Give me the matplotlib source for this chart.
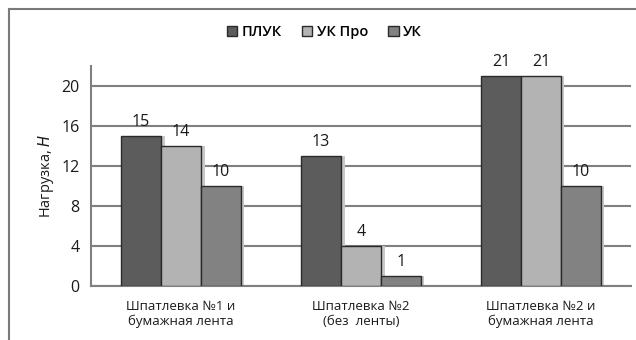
import numpy as np
import matplotlib.pyplot as plt
from matplotlib.lines import Line2D

plt.rcParams['font.family'] = ['Open Sans', 'DejaVu Sans']

categories = ["Шпатлевка №1 и\nбумажная лента", "Шпатлевка №2\n(без  ленты)", "Шпатлевка №2 и\nбумажная лента"]
series_names = ["ПЛУК", "УК Про", "УК"]
pluk = [15, 13, 21]
uk_pro = [14, 4, 21]
uk = [10, 1, 10]
colors = ["#5c5c5c", "#b3b3b3", "#828282"]

fig = plt.figure(figsize=(6.36, 3.4), dpi=100)
ax = fig.add_axes([0.143, 0.159, 0.849, 0.647])

x = np.arange(len(categories))
w = 0.222
for i, (vals, name, c) in enumerate(zip([pluk, uk_pro, uk], series_names, colors)):
    pos = x + (i - 1) * w
    # soft shadow
    ax.bar(pos + 0.02, vals, w, color="#c8c8c8", zorder=2, linewidth=0)
    ax.bar(pos, vals, w, color=c, edgecolor="#2a2a2a", linewidth=1.0,
           label=name, zorder=3)
    for p, v in zip(pos, vals):
        ax.text(p, v + 0.6, str(v), ha="center", va="bottom", fontsize=11.5,
                color="#1a1a1a", zorder=4)

ax.set_xlim(-0.5, 2.5)
ax.set_ylim(0, 22)
ax.set_yticks([0, 4, 8, 12, 16, 20])
ax.set_xticks(x)
ax.set_xticklabels(categories, fontsize=9.5, color="#1a1a1a")
ax.tick_params(axis="y", labelsize=11.5, length=0, pad=8, labelcolor="#1a1a1a")
ax.tick_params(axis="x", length=0, pad=10)
ax.yaxis.grid(True, color="#808080", linewidth=1.5, zorder=0)
ax.set_axisbelow(True)
for s in ["top", "right"]:
    ax.spines[s].set_visible(False)
ax.spines["left"].set_color("#808080")
ax.spines["bottom"].set_color("#808080")
ax.spines["left"].set_linewidth(1.5)
ax.spines["bottom"].set_linewidth(1.5)
ax.set_ylabel("Нагрузка, $\\it{Н}$", fontsize=10.5, labelpad=4, color="#1a1a1a")

handles = [plt.Rectangle((0, 0), 1, 1, facecolor=c, edgecolor="#2a2a2a") for c in colors]
leg = fig.legend(handles, series_names, loc="center", bbox_to_anchor=(0.51, 0.905), ncol=3,
                 frameon=False, prop={"size": 10.5, "weight": "semibold"},
                 handlelength=0.7, handleheight=0.7, handletextpad=0.3, columnspacing=1.4)

# outer frame (top and left edges)
fig.add_artist(Line2D([9 / 636, 1], [1 - 9 / 340, 1 - 9 / 340], color="#7a7a7a", lw=1.5,
                      transform=fig.transFigure))
fig.add_artist(Line2D([9 / 636, 9 / 636], [0, 1 - 9 / 340], color="#7a7a7a", lw=1.5,
                      transform=fig.transFigure))

fig.savefig("out.png", dpi=100)
